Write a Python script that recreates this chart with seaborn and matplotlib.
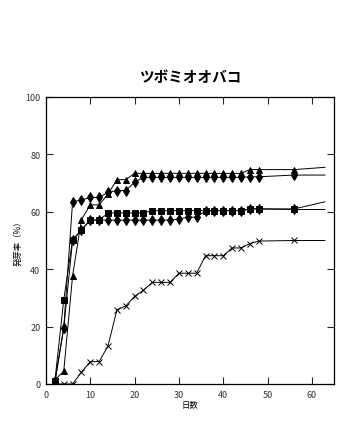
import numpy as np
import pandas as pd
import seaborn as sns
import matplotlib.pyplot as plt

# days of observation (last point has no marker)
days = [2, 4, 6, 8, 10, 12, 14, 16, 18, 20, 22, 24, 26, 28, 30, 32, 34,
        36, 38, 40, 42, 44, 46, 48, 56, 63]

# germination rate (%) per series
tri = [1.5, 4.4, 37.7, 57.3, 62.4, 62.4, 66.2, 71.2, 71.2, 73.4, 73.4, 73.4, 73.4, 73.4, 73.4, 73.4, 73.4,
       73.4, 73.4, 73.4, 73.4, 73.4, 74.7, 74.7, 74.7, 75.5]
dia_hi = [1.0, 19.5, 63.5, 64.1, 65.0, 65.0, 66.8, 67.4, 67.4, 70.3, 72.0, 72.0, 72.0, 72.0, 72.0, 72.0, 72.0,
          72.0, 72.0, 72.0, 72.0, 72.0, 72.2, 72.2, 72.8, 72.8]
sq = [1.0, 29.3, 50.3, 53.7, 57.1, 57.1, 59.6, 59.6, 59.6, 59.6, 59.6, 60.4, 60.4, 60.4, 60.4, 60.4, 60.4,
      60.4, 60.4, 60.4, 60.4, 60.4, 61.0, 61.0, 61.0, 63.5]
dia_lo = [0.5, 19.5, 50.0, 53.7, 57.1, 57.1, 57.1, 57.1, 57.1, 57.1, 57.1, 57.1, 57.1, 57.1, 57.5, 58.1, 58.1,
          60.4, 60.4, 60.4, 60.4, 60.4, 61.0, 61.0, 60.8, 60.8]
cross = [0, 0, 0, 4.1, 7.8, 7.8, 13.3, 25.8, 27.2, 30.5, 32.7, 35.4, 35.4, 35.4, 38.6, 38.6, 38.6,
         44.7, 44.7, 44.7, 47.4, 47.4, 48.9, 49.8, 50.0, 50.0]

series = [
    (dia_lo, 'd', 5),
    (sq, 's', 4.5),
    (dia_hi, 'd', 5.5),
    (tri, '^', 5),
    (cross, 'x', 5),
]

sns.set_style("ticks")
plt.rcParams['font.family'] = ['Noto Sans CJK JP', 'DejaVu Sans']

fig = plt.figure(figsize=(3.55, 4.27), dpi=100)
ax = fig.add_axes([0.1296, 0.0984, 0.8112, 0.6721])

marks = list(range(len(days) - 1))
for vals, m, ms in series:
    sns.lineplot(x=days, y=vals, ax=ax, color='black', lw=0.7, marker=m,
                 markersize=ms, markevery=marks, markeredgewidth=0.7,
                 markeredgecolor='black', markerfacecolor='black')

ax.set_xlim(0, 65)
ax.set_ylim(0, 100)
ax.set_xticks(range(0, 61, 10))
ax.set_yticks(range(0, 101, 20))
ax.tick_params(direction='in', length=5, width=0.8, labelsize=6.5,
               labelcolor='#333333', top=True, right=True, pad=4)
for s in ax.spines.values():
    s.set_linewidth(0.9)
    s.set_color('black')

ax.set_xlabel('日数', fontsize=6, labelpad=1, color='black')
ax.set_ylabel('発芽率（%）', fontsize=6, labelpad=2, color='black')
fig.text(0.535, 0.82, 'ツボミオオバコ', ha='center', va='center',
         fontsize=10.5, fontweight='bold', color='black')

plt.savefig('out.png', dpi=100)
